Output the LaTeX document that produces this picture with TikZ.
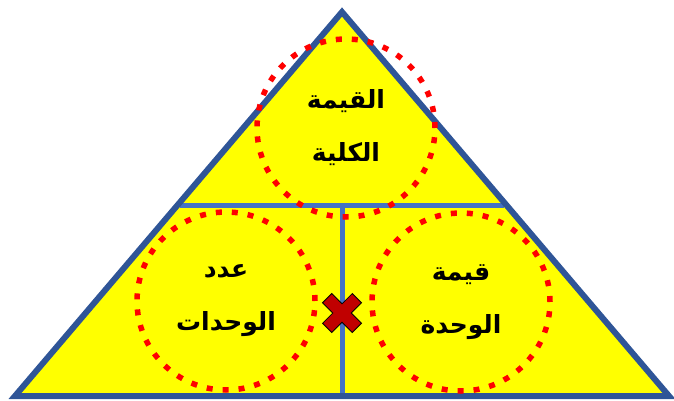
\documentclass[tikz,border=0pt]{standalone}
\usepackage{fontspec}
\usepackage{tikz}
\usetikzlibrary{positioning}
\TeXXeTstate=1
\newfontfamily\arabicfont[Script=Arabic]{DejaVu Sans}
\definecolor{triyellow}{HTML}{FFFF00}
\definecolor{triedge}{HTML}{2F5597}
\definecolor{triline}{HTML}{4472C4}
\definecolor{dotred}{HTML}{FF0000}
\definecolor{crossred}{HTML}{C00000}

\begin{document}
\begin{tikzpicture}[
    x=1pt, y=-1pt,
    part/.style={circle, draw=dotred, line width=5.5pt, dash pattern=on 6pt off 10pt,
                 minimum size=178pt, inner sep=0pt, align=center,
                 font=\arabicfont\bfseries\fontsize{25}{53}\selectfont},
    edge/.style={draw=triedge, line width=6pt, line join=miter},
    divider/.style={draw=triline, line width=5pt}
]
    \useasboundingbox (0,0) rectangle (674,401);

    % المثلث
    \coordinate (top) at (342,12);
    \coordinate (left) at (15,396);
    \coordinate (right) at (669,396);
    \coordinate (midl) at (180,205);
    \coordinate (midr) at (504,205);
    \coordinate (midc) at (342,205);
    \coordinate (base) at (342,396);
    \fill[triyellow] (top) -- (left) -- (right) -- cycle;
    \draw[divider] (midl) -- (midr);
    \draw[divider] (midc) -- (base);
    \draw[edge] (top) -- (left) -- (right) -- cycle;

    % الدوائر
    \node[part] (total) at (346,128) {\beginR القيمة\endR\\\beginR الكلية\endR};
    \node[part] (count) at (226,301) {\beginR عدد\endR\\\beginR الوحدات\endR};
    \node[part] (unit) at (461,302) {\beginR قيمة\endR\\\beginR الوحدة\endR};

    % العلامة
    \coordinate (mark) at (342,313);
    \begin{scope}[shift={(mark)}, rotate=45]
        \draw[fill=crossred, draw=black, line width=0.8pt]
            (-6.5,-6.5) -- (-6.5,-21) -- (6.5,-21) -- (6.5,-6.5) -- (21,-6.5) -- (21,6.5)
            -- (6.5,6.5) -- (6.5,21) -- (-6.5,21) -- (-6.5,6.5) -- (-21,6.5) -- (-21,-6.5) -- cycle;
    \end{scope}
\end{tikzpicture}
\end{document}
